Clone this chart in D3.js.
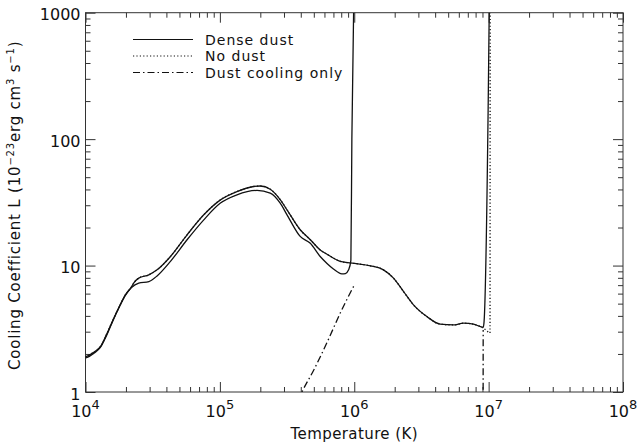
<!DOCTYPE html>
<html><head><meta charset="utf-8">
<script src="https://cdn.jsdelivr.net/npm/d3@7"></script>
<style>
body{margin:0;background:#fff}
svg text{font-family:"DejaVu Sans","Liberation Sans",sans-serif;fill:#111}
</style>
</head><body>
<svg id="chart" width="640" height="442"></svg>
<script>
// ---------- data (temperature in K, cooling coefficient L in 1e-23 erg cm^3 s^-1) ----------
const denseDustT = [1.00e4,1.03e4,1.15e4,1.29e4,1.43e4,1.58e4,1.76e4,1.98e4,2.20e4,2.29e4,2.49e4,2.96e4,3.41e4,4.29e4,5.70e4,7.59e4,1.01e5,1.34e5,1.78e5,2.00e5,2.37e5,2.82e5,3.16e5,3.96e5,4.71e5,5.58e5,6.27e5,7.87e5,1.00e6,1.32e6,1.65e6,1.96e6,2.33e6,2.76e6,3.47e6,4.36e6,5.47e6,6.50e6,7.71e6,8.70e6,9.12e6,9.25e6,9.91e6,1.01e7];
const denseDustL = [1.90,1.92,2.06,2.28,2.83,3.60,4.60,5.86,6.80,7.30,7.95,8.45,9.25,11.8,17.5,25.2,33.1,38.5,42.2,42.6,40.2,33.1,27.6,19.2,16.0,13.3,12.3,10.8,10.4,9.95,9.25,7.95,6.22,4.89,3.95,3.44,3.39,3.50,3.44,3.29,3.25,3.60,162,1000];
const denseDust2T = [1.00e4,1.03e4,1.15e4,1.29e4,1.43e4,1.58e4,1.76e4,1.98e4,2.20e4,2.49e4,2.96e4,3.41e4,4.29e4,5.70e4,7.59e4,1.01e5,1.34e5,1.89e5,2.37e5,2.82e5,3.16e5,3.96e5,4.71e5,5.58e5,6.27e5,7.00e5,8.09e5,8.60e5,9.08e5,9.44e5,9.60e5,9.89e5];
const denseDust2L = [1.86,1.88,2.02,2.25,2.78,3.55,4.55,5.80,6.70,7.26,7.47,8.28,10.8,16.0,23.0,31.2,36.3,39.3,37.4,31.0,25.2,17.0,15.0,11.8,10.4,9.40,8.60,8.65,9.25,11.0,100,1000];
const noDustT = [1.00e4,1.03e4,1.15e4,1.29e4,1.43e4,1.58e4,1.76e4,1.98e4,2.20e4,2.29e4,2.49e4,2.96e4,3.41e4,4.29e4,5.70e4,7.59e4,1.01e5,1.34e5,1.78e5,2.00e5,2.37e5,2.82e5,3.16e5,3.96e5,4.71e5,5.58e5,6.27e5,7.87e5,1.00e6,1.32e6,1.65e6,1.96e6,2.33e6,2.76e6,3.47e6,4.36e6,5.47e6,6.50e6,7.71e6,8.70e6,9.30e6,1.00e7,1.024e7,1.026e7,1.027e7];
const noDustL = [1.90,1.92,2.06,2.28,2.83,3.60,4.60,5.86,6.80,7.30,7.95,8.45,9.25,11.8,17.5,25.2,33.1,38.5,42.2,42.6,40.2,33.1,27.6,19.2,16.0,13.3,12.3,10.8,10.4,9.95,9.25,7.95,6.22,4.89,3.95,3.44,3.39,3.50,3.44,3.29,3.15,2.97,2.93,160,1000];
const dustOnlyT = [3.80e5,4.08e5,5.01e5,6.31e5,7.94e5,1.00e6];
const dustOnlyL = [0.85,1.00,1.50,2.50,4.30,7.00];
const dustOnly2T = [9.10e6,9.11e6];
const dustOnly2L = [0.80,3.10];

const xMajor = [1e4,1e5,1e6,1e7,1e8];
const xMajorExp = ["4","5","6","7","8"];
const yMajor = [1,10,100,1000];
const yMajorLabels = ["1","10","100","1000"];
const legendLabels = ["Dense dust","No dust","Dust cooling only"];

// ---------- layout ----------
const svg = d3.select("#chart");
const L = 85.5, R = 623, T = 12.7, B = 392;
const x = d3.scaleLog().domain([1e4,1e8]).range([L,R]);
const y = d3.scaleLog().domain([1,1000]).range([B,T]);

function minors(lo, hi){ const a=[]; for(let p=lo;p<hi;p++) for(let k=2;k<=9;k++) a.push(k*Math.pow(10,p)); return a; }
const xMinor = minors(4,8), yMinor = minors(0,3);

const axisColor = "#333";
function styleAxis(g){ g.select(".domain").remove(); g.selectAll("line").attr("stroke",axisColor).attr("stroke-width",1); g.selectAll("text").remove(); }

svg.append("g").attr("transform",`translate(0,${B})`).call(d3.axisBottom(x).tickValues(xMajor).tickSize(-10)).call(styleAxis);
svg.append("g").attr("transform",`translate(0,${B})`).call(d3.axisBottom(x).tickValues(xMinor).tickSize(-5)).call(styleAxis);
svg.append("g").attr("transform",`translate(0,${T})`).call(d3.axisTop(x).tickValues(xMajor).tickSize(-10)).call(styleAxis);
svg.append("g").attr("transform",`translate(0,${T})`).call(d3.axisTop(x).tickValues(xMinor).tickSize(-5)).call(styleAxis);
svg.append("g").attr("transform",`translate(${L},0)`).call(d3.axisLeft(y).tickValues(yMajor).tickSize(-10)).call(styleAxis);
svg.append("g").attr("transform",`translate(${L},0)`).call(d3.axisLeft(y).tickValues(yMinor).tickSize(-5)).call(styleAxis);
svg.append("g").attr("transform",`translate(${R},0)`).call(d3.axisRight(y).tickValues(yMajor).tickSize(-10)).call(styleAxis);
svg.append("g").attr("transform",`translate(${R},0)`).call(d3.axisRight(y).tickValues(yMinor).tickSize(-5)).call(styleAxis);

svg.append("rect").attr("x",L).attr("y",T).attr("width",R-L).attr("height",B-T)
  .attr("fill","none").attr("stroke",axisColor).attr("stroke-width",1);

// tick labels
svg.append("g").selectAll("text").data(xMajor).join("text")
  .attr("x",d=>x(d)).attr("y",417).attr("text-anchor","middle").attr("font-size",16)
  .each(function(d,i){
    const t=d3.select(this);
    t.append("tspan").text("10");
    t.append("tspan").attr("dy",-8).attr("font-size",13).text(xMajorExp[i]);
  });
svg.append("g").selectAll("text").data(yMajor).join("text")
  .attr("x",L-5).attr("y",d=>y(d)+2).attr("text-anchor","end").attr("dominant-baseline","central")
  .attr("font-size",16).text((d,i)=>yMajorLabels[i]);

// axis titles
svg.append("text").attr("x",(L+R)/2).attr("y",439).attr("text-anchor","middle").attr("font-size",15).attr("letter-spacing",0.4).text("Temperature (K)");
const yt = svg.append("text").attr("transform",`translate(20,${(T+B)/2+3}) rotate(-90)`).attr("text-anchor","middle").attr("font-size",15).attr("letter-spacing",0.8);
yt.append("tspan").text("Cooling Coefficient L (10");
yt.append("tspan").attr("dy",-6).attr("font-size",10).text("−23");
yt.append("tspan").attr("dy",6).text("erg cm");
yt.append("tspan").attr("dy",-6).attr("font-size",10).text("3");
yt.append("tspan").attr("dy",6).text(" s");
yt.append("tspan").attr("dy",-6).attr("font-size",10).text("−1");
yt.append("tspan").attr("dy",6).text(")");

// clip
svg.append("clipPath").attr("id","clip").append("rect").attr("x",L).attr("y",T).attr("width",R-L).attr("height",B-T);
const plot = svg.append("g").attr("clip-path","url(#clip)");
const line = d3.line().x(d=>x(d[0])).y(d=>y(d[1])).curve(d3.curveMonotoneX);
const zip = (a,b)=>a.map((v,i)=>[v,b[i]]);

const styles = {solid:null, dotted:"1.2,2.2", dashdot:"7,3,1.5,3"};
plot.append("path").attr("d",line(zip(noDustT,noDustL))).attr("fill","none").attr("stroke","#111").attr("stroke-width",1.3).attr("stroke-dasharray",styles.dotted);
plot.append("path").attr("d",line(zip(denseDustT,denseDustL))).attr("fill","none").attr("stroke","#111").attr("stroke-width",1.3);
plot.append("path").attr("d",line(zip(denseDust2T,denseDust2L))).attr("fill","none").attr("stroke","#111").attr("stroke-width",1.3);
plot.append("path").attr("d",line(zip(dustOnlyT,dustOnlyL))).attr("fill","none").attr("stroke","#111").attr("stroke-width",1.3).attr("stroke-dasharray",styles.dashdot);
plot.append("path").attr("d",d3.line().x(d=>x(d[0])).y(d=>y(d[1]))(zip(dustOnly2T,dustOnly2L))).attr("fill","none").attr("stroke","#111").attr("stroke-width",1.3).attr("stroke-dasharray",styles.dashdot);

// legend
const legStyles = [styles.solid, styles.dotted, styles.dashdot];
const lg = svg.append("g");
legendLabels.forEach((lab,i)=>{
  const yy = 39.5 + i*16.5;
  lg.append("line").attr("x1",133).attr("x2",193).attr("y1",yy).attr("y2",yy)
    .attr("stroke","#111").attr("stroke-width",1.2).attr("stroke-dasharray",legStyles[i]);
  lg.append("text").attr("x",205).attr("y",yy+5).attr("font-size",14).attr("letter-spacing",1).text(lab);
});
</script>
</body></html>
